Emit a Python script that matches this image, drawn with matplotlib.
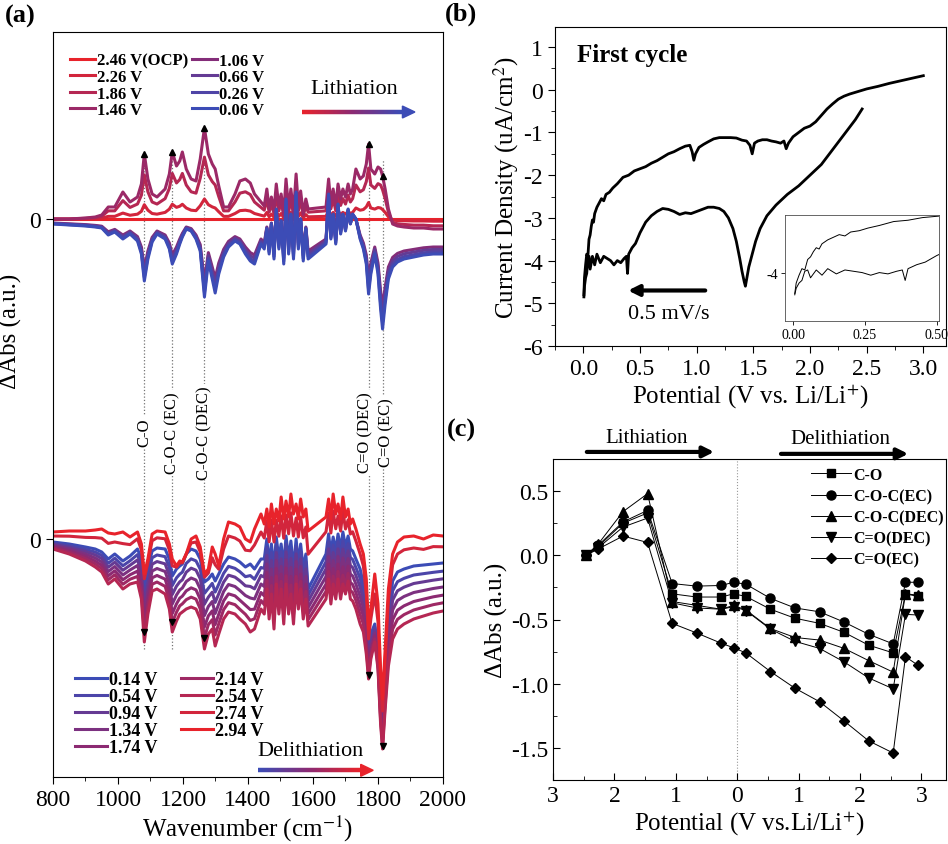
import numpy as np
import matplotlib
matplotlib.use('Agg')
import matplotlib.pyplot as plt
from matplotlib.collections import LineCollection
from matplotlib.colors import LinearSegmentedColormap
from matplotlib.patches import Polygon
from matplotlib.ticker import MultipleLocator

plt.rcParams['font.family'] = ['Liberation Serif', 'DejaVu Serif']
plt.rcParams['mathtext.fontset'] = 'stix'
plt.rcParams['axes.unicode_minus'] = False

# ---------------- panel (a): in situ IR difference spectra ----------------
wn = np.array([800, 850, 900, 930, 950, 970, 990, 1015, 1037, 1060,
               1072, 1081, 1092, 1105, 1120, 1145, 1158, 1167, 1180, 1190,
               1198, 1210, 1225, 1240, 1253, 1266, 1278, 1290, 1299, 1310,
               1325, 1340, 1360, 1375, 1392, 1407, 1420, 1440,
               1450, 1458, 1465, 1472, 1480, 1487, 1495, 1502, 1510, 1517,
               1525, 1532, 1540, 1548, 1555, 1562, 1570, 1578,
               1585, 1640,
               1648, 1655, 1662, 1670, 1677, 1685, 1692, 1700, 1708, 1715, 1722,
               1732, 1745, 1755, 1764, 1771, 1778, 1790, 1800, 1808, 1814,
               1822, 1832, 1845, 1860, 1880, 1910, 1940, 1970, 2000])

# lithiation: positive-going shape (1.46 V) and negative-going shape (0.06 V)
pos_prof = np.array([0, 0, 0.01, 0.02, 0.04, 0.12, 0.12, 0.27, 0.17, 0.22,
                     0.35, 0.65, 0.40, 0.25, 0.22, 0.30, 0.45, 0.67, 0.53, 0.58,
                     0.67, 0.50, 0.40, 0.38, 0.60, 0.91, 0.65, 0.55, 0.50, 0.33,
                     0.12, 0.12, 0.25, 0.38, 0.40, 0.36, 0.25, 0.17,
                     0.13, 0.30, 0.10, 0.22, 0.08, 0.35, 0.12, 0.25, 0.05, 0.40,
                     0.10, 0.30, 0.06, 0.45, 0.12, 0.28, 0.05, 0.20,
                     0.10, 0.12,
                     0.40, 0.15, 0.30, 0.12, 0.35, 0.20, 0.30, 0.22, 0.35, 0.25, 0.30,
                     0.50, 0.40, 0.43, 0.55, 0.75, 0.50, 0.45, 0.52, 0.50, 0.43,
                     0.30, 0.10, -0.05, -0.07, -0.08, -0.09, -0.09, -0.10, -0.10])
neg_prof = np.array([-0.05, -0.06, -0.07, -0.08, -0.09, -0.16, -0.13, -0.20, -0.15, -0.22,
                     -0.35, -0.62, -0.40, -0.23, -0.15, -0.20, -0.30, -0.45, -0.35, -0.25,
                     -0.18, -0.10, -0.12, -0.20, -0.32, -0.78, -0.42, -0.60, -0.74, -0.55,
                     -0.38, -0.28, -0.22, -0.25, -0.35, -0.42, -0.45, -0.25,
                     -0.30, -0.10, -0.35, -0.05, -0.40, 0.10, -0.30, -0.02, -0.45, 0.20,
                     -0.35, 0.05, -0.40, 0.27, -0.30, 0.00, -0.42, -0.10,
                     -0.40, -0.25,
                     0.25, -0.20, 0.05, -0.25, 0.15, -0.15, 0.05, -0.12, 0.10, -0.05, 0.05,
                     0.00, -0.20, -0.30, -0.45, -0.75, -0.55, -0.35, -0.55, -0.90, -1.10,
                     -0.85, -0.60, -0.48, -0.43, -0.40, -0.38, -0.36, -0.35, -0.35])

# delithiation: 2.94 V (top red), 0.14 V (blue) and 2.54 V (lowest) shapes
red_prof = np.array([0.07, 0.08, 0.08, 0.09, 0.10, 0.06, 0.05, 0.07, 0.02, 0.07,
                     -0.05, -0.35, -0.20, 0.05, 0.08, 0.07, -0.05, -0.20, -0.27, -0.22,
                     -0.23, -0.15, 0.00, 0.03, -0.08, -0.35, -0.30, -0.08, -0.15, -0.27,
                     0.00, 0.17, 0.15, 0.12, 0.00, -0.03, 0.10, 0.25,
                     0.15, 0.30, 0.12, 0.35, 0.15, 0.30, 0.18, 0.42, 0.20, 0.38,
                     0.22, 0.45, 0.25, 0.35, 0.20, 0.40, 0.22, 0.30,
                     0.08, 0.22,
                     0.40, 0.20, 0.45, 0.25, 0.35, 0.20, 0.42, 0.22, 0.30, 0.15, 0.20,
                     0.10, -0.05, -0.15, -0.40, -0.90, -0.70, -0.35, -0.65, -1.30, -1.60,
                     -1.10, -0.50, -0.15, -0.03, 0.02, 0.03, 0.00, 0.04, 0.03])
blue_prof = np.array([-0.03, -0.05, -0.08, -0.10, -0.13, -0.20, -0.15, -0.22, -0.17, -0.10,
                      -0.20, -0.47, -0.30, -0.12, -0.09, -0.10, -0.20, -0.37, -0.30, -0.27,
                      -0.25, -0.15, -0.10, -0.12, -0.20, -0.43, -0.40, -0.35, -0.42, -0.35,
                      -0.25, -0.18, -0.20, -0.23, -0.28, -0.25, -0.30, -0.20,
                      -0.20, 0.00, -0.25, -0.05, -0.30, 0.02, -0.20, -0.05, -0.28, 0.03,
                      -0.20, -0.02, -0.30, 0.00, -0.25, -0.05, -0.30, -0.15,
                      -0.50, -0.15,
                      0.05, -0.15, 0.02, -0.12, 0.05, -0.10, 0.07, -0.08, 0.03, -0.10, -0.12,
                      -0.20, -0.30, -0.45, -0.80, -1.15, -0.95, -0.85, -1.10, -1.60, -1.90,
                      -1.40, -0.80, -0.42, -0.33, -0.30, -0.27, -0.26, -0.25, -0.24])
low_prof = np.array([-0.10, -0.15, -0.22, -0.28, -0.33, -0.45, -0.40, -0.50, -0.45, -0.43,
                     -0.60, -1.03, -0.75, -0.52, -0.50, -0.55, -0.70, -0.93, -0.82, -0.75,
                     -0.73, -0.70, -0.68, -0.70, -0.80, -1.10, -0.95, -0.90, -1.07, -0.95,
                     -0.80, -0.73, -0.75, -0.80, -0.85, -0.93, -0.90, -0.70,
                     -0.75, -0.50, -0.80, -0.55, -0.90, -0.45, -0.75, -0.50, -0.85, -0.45,
                     -0.75, -0.55, -0.85, -0.45, -0.70, -0.50, -0.80, -0.60,
                     -0.87, -0.60,
                     -0.40, -0.65, -0.45, -0.60, -0.40, -0.60, -0.45, -0.55, -0.42, -0.60, -0.62,
                     -0.70, -0.85, -0.93, -1.15, -1.40, -1.20, -1.03, -1.30, -1.85, -2.10,
                     -1.70, -1.27, -1.00, -0.90, -0.85, -0.80, -0.77, -0.74, -0.72])

lith_labels = ['2.46 V(OCP)', '2.26 V', '1.86 V', '1.46 V',
               '1.06 V', '0.66 V', '0.26 V', '0.06 V']
lith_pos_w = [0, 0.22, 0.68, 1.0, 0, 0, 0, 0]
lith_neg_w = [0, 0, 0, 0, 0.80, 0.87, 0.94, 1.0]
lith_cfrac = [0.0, 0.12, 0.28, 0.42, 0.55, 0.75, 0.88, 1.0]

delith_labels = ['0.14 V', '0.54 V', '0.94 V', '1.34 V', '1.74 V',
                 '2.14 V', '2.54 V', '2.74 V', '2.94 V']
delith_red_w = [0, 0, 0, 0, 0, 0, 0, 0.6, 1.0]
delith_blue_w = [1.0, 0.83, 0.67, 0.5, 0.33, 0.17, 0, 0.4, 0]
delith_low_w = [0, 0.17, 0.33, 0.5, 0.67, 0.83, 1.0, 0, 0]
delith_cfrac = [1.0, 0.9, 0.74, 0.6, 0.5, 0.4, 0.28, 0.12, 0.0]

bands = [1081, 1167, 1266, 1771, 1814]
band_labels = ['C-O', 'C-O-C (EC)', 'C-O-C (DEC)', 'C=O (DEC)', 'C=O (EC)']
band_label_x = [1081, 1167, 1266, 1762, 1826]

# ---------------- panel (b): first CV cycle ----------------
cv_up_v = [0.005, 0.01, 0.02, 0.03, 0.04, 0.05, 0.06, 0.07, 0.08, 0.09, 0.10, 0.12, 0.14,
           0.16, 0.18, 0.20, 0.23, 0.26, 0.30, 0.35, 0.40, 0.45, 0.50, 0.55, 0.60, 0.65,
           0.70, 0.75, 0.80, 0.85, 0.90, 0.94, 0.96, 0.975, 0.99, 1.02, 1.06, 1.10, 1.15,
           1.20, 1.25, 1.30, 1.35, 1.40, 1.44, 1.47, 1.49, 1.51, 1.54, 1.58, 1.62, 1.66,
           1.70, 1.74, 1.77, 1.79, 1.81, 1.85, 1.90, 1.95, 2.00, 2.05, 2.10, 2.15, 2.20,
           2.25, 2.30, 2.35, 2.40, 2.50, 2.60, 2.70, 2.80, 2.90, 3.00]
cv_up_i = [-4.8, -4.4, -4.1, -3.85, -3.9, -3.5, -3.4, -3.2, -3.05, -3.1, -2.9, -2.75, -2.65,
           -2.55, -2.6, -2.45, -2.4, -2.3, -2.2, -2.05, -2.0, -1.9, -1.85, -1.8, -1.72, -1.66,
           -1.58, -1.5, -1.45, -1.38, -1.32, -1.3, -1.45, -1.65, -1.5, -1.35, -1.28, -1.22, -1.15,
           -1.12, -1.12, -1.12, -1.13, -1.18, -1.2, -1.3, -1.5, -1.25, -1.2, -1.17, -1.17, -1.2,
           -1.22, -1.25, -1.2, -1.38, -1.25, -1.1, -1.0, -0.9, -0.85, -0.75, -0.6, -0.45, -0.33,
           -0.22, -0.15, -0.1, -0.06, 0.02, 0.08, 0.15, 0.21, 0.27, 0.33]
cv_dn_v = [2.46, 2.40, 2.30, 2.20, 2.10, 2.00, 1.90, 1.80, 1.70, 1.62, 1.56, 1.52, 1.49,
           1.46, 1.44, 1.43, 1.42, 1.40, 1.38, 1.35, 1.32, 1.28, 1.24, 1.20, 1.15, 1.10,
           1.05, 1.00, 0.95, 0.90, 0.85, 0.80, 0.75, 0.70, 0.65, 0.60, 0.55, 0.50, 0.46,
           0.43, 0.40, 0.39, 0.38, 0.36, 0.33, 0.30, 0.27, 0.24, 0.21, 0.18, 0.15, 0.12,
           0.10, 0.08, 0.06, 0.05, 0.04, 0.03, 0.02, 0.01, 0.005]
cv_dn_i = [-0.45, -0.7, -1.05, -1.4, -1.75, -2.0, -2.25, -2.45, -2.7, -2.95, -3.25, -3.55, -3.85,
           -4.15, -4.45, -4.6, -4.5, -4.25, -3.95, -3.55, -3.25, -3.0, -2.85, -2.78, -2.75, -2.75,
           -2.8, -2.85, -2.9, -2.88, -2.92, -2.85, -2.8, -2.78, -2.85, -2.95, -3.1, -3.35, -3.6,
           -3.7, -3.85, -4.3, -3.9, -3.95, -4.05, -4.0, -4.1, -4.0, -3.95, -3.9, -4.05, -3.85,
           -4.1, -3.9, -4.2, -3.9, -3.95, -4.3, -4.4, -4.6, -4.85]

# ---------------- panel (c): band intensity vs potential ----------------
lith_v = np.array([2.46, 2.26, 1.86, 1.46, 1.06, 0.66, 0.26, 0.06])
delith_v = np.array([0.14, 0.54, 0.94, 1.34, 1.74, 2.14, 2.54, 2.74, 2.94])
c_o = [0, 0.07, 0.25, 0.33, -0.30, -0.325, -0.325, -0.30,
       -0.32, -0.42, -0.49, -0.53, -0.60, -0.70, -0.76, -0.30, -0.32]
c_o_c_ec = [0, 0.08, 0.26, 0.35, -0.22, -0.24, -0.235, -0.21,
            -0.225, -0.335, -0.41, -0.44, -0.52, -0.615, -0.69, -0.21, -0.21]
c_o_c_dec = [0, 0.09, 0.34, 0.48, -0.36, -0.39, -0.42, -0.39,
             -0.425, -0.57, -0.64, -0.66, -0.725, -0.82, -0.91, -0.30, -0.31]
c_eq_o_dec = [0, 0.06, 0.22, 0.29, -0.37, -0.41, -0.42, -0.40,
              -0.43, -0.575, -0.67, -0.725, -0.83, -0.955, -1.04, -0.46, -0.465]
c_eq_o_ec = [0, 0.05, 0.15, 0.10, -0.53, -0.605, -0.685, -0.72,
             -0.76, -0.905, -1.035, -1.14, -1.29, -1.445, -1.54, -0.79, -0.855]

# ==================================================================
W, H = 948, 845
fig = plt.figure(figsize=(W / 100, H / 100), dpi=100)
cmap = LinearSegmentedColormap.from_list('rb', ['#e8232b', '#8c2a72', '#3c4cb6'])


def px_axes(left, top, right, bottom):
    return fig.add_axes([left / W, 1 - bottom / H, (right - left) / W, (bottom - top) / H])


def grad_arrow(ax, x0, x1, y, c_start, c_end):
    head = 0.032
    xs = np.linspace(x0, x1 - head, 50)
    segs = [[(xs[i], y), (xs[i + 1], y)] for i in range(len(xs) - 1)]
    cols = [cmap(c_start + (c_end - c_start) * i / (len(segs) - 1)) for i in range(len(segs))]
    ax.add_collection(LineCollection(segs, colors=cols, linewidths=3.2,
                                     transform=ax.transAxes, clip_on=False))
    ax.add_patch(Polygon([(x1 - head, y - 0.008), (x1, y), (x1 - head, y + 0.008)],
                         closed=True, transform=ax.transAxes, color=cmap(c_end),
                         clip_on=False))


# ---- (a)
ax = px_axes(53, 33, 443, 778)
top0, bot0 = 0.0, -3.2
lines_l = []
curves_l = []
for lab, wp, wneg, c in zip(lith_labels, lith_pos_w, lith_neg_w, lith_cfrac):
    y = top0 + wp * pos_prof + wneg * neg_prof
    ln, = ax.plot(wn, y, color=cmap(c), lw=2.2, label=lab)
    lines_l.append(ln)
    curves_l.append(y)
lines_d = []
curves_d = []
for lab, wr, wb, wlo, c in zip(delith_labels, delith_red_w, delith_blue_w, delith_low_w, delith_cfrac):
    y = bot0 + wr * red_prof + wb * blue_prof + wlo * low_prof
    ln, = ax.plot(wn, y, color=cmap(c), lw=2.2, label=lab)
    lines_d.append(ln)
    curves_d.append(y)

# band markers on the 1.46 V and 2.14 V spectra
idx = np.searchsorted(wn, bands)
ax.plot(wn[idx], curves_l[3][idx], '^', color='k', ms=4, zorder=4)
ax.plot(wn[idx], curves_d[5][idx], 'v', color='k', ms=4, zorder=4)

ax.vlines(bands, -4.3, 0.6, colors='0.45', linestyles=':', lw=0.9, zorder=0.5)
for bx, lab in zip(band_label_x, band_labels):
    ax.text(bx, -2.13, lab, rotation=90, ha='center', va='center', fontsize=12,
            bbox=dict(facecolor='white', edgecolor='none', pad=1), zorder=3)

leg1 = ax.legend(handles=lines_l, ncol=2, loc='upper left', bbox_to_anchor=(0.044, 0.972),
                 frameon=False, prop={'weight': 'bold', 'size': 12}, borderpad=0,
                 borderaxespad=0, handlelength=1.5, handletextpad=0.1,
                 labelspacing=0.02, columnspacing=0.25)
ax.add_artist(leg1)
ax.legend(handles=lines_d, ncol=2, loc='upper left', bbox_to_anchor=(0.056, 0.142),
          frameon=False, prop={'weight': 'bold', 'size': 13}, borderpad=0,
          borderaxespad=0, handlelength=1.8, handletextpad=0.08,
          labelspacing=0.0, columnspacing=1.3)

ax.text(0.659, 0.9235, 'Lithiation', transform=ax.transAxes, fontsize=16, va='center')
grad_arrow(ax, 0.638, 0.928, 0.8926, 0.0, 1.0)
ax.text(0.523, 0.035, 'Delithiation', transform=ax.transAxes, fontsize=16, va='center')
grad_arrow(ax, 0.526, 0.821, 0.009, 1.0, 0.0)

ax.set_xlim(800, 2000)
ax.set_ylim(-5.58, 1.87)
ax.set_xticks(range(800, 2001, 200))
ax.xaxis.set_minor_locator(MultipleLocator(100))
ax.set_yticks([top0, bot0])
ax.set_yticklabels(['0', '0'])
ax.tick_params(labelsize=17, direction='out', length=5)
ax.tick_params(which='minor', direction='out', length=3)
ax.set_xlabel('Wavenumber (cm$^{-1}$)', fontsize=18, labelpad=2)
ax.set_ylabel('ΔAbs (a.u.)', fontsize=18, labelpad=4)
ax.yaxis.set_label_coords(-0.08, 0.6)

# ---- (b)
axb = px_axes(555, 28, 946, 347)
axb.plot(cv_up_v, cv_up_i, color='k', lw=2)
axb.plot(cv_dn_v, cv_dn_i, color='k', lw=2)
axb.set_xlim(-0.25, 3.2)
axb.set_ylim(-6, 1.47)
axb.set_xticks(np.arange(0, 3.01, 0.5))
axb.set_xticklabels([f'{v:.1f}' for v in np.arange(0, 3.01, 0.5)])
axb.set_yticks(range(-6, 2))
axb.xaxis.set_minor_locator(MultipleLocator(0.25))
axb.yaxis.set_minor_locator(MultipleLocator(0.5))
axb.tick_params(labelsize=17, direction='out', length=5)
axb.tick_params(which='minor', direction='out', length=3)
axb.set_xlabel('Potential (V vs. Li/Li$^{+}$)', fontsize=18, labelpad=2)
axb.set_ylabel('Current Density (uA/cm$^{2}$)', fontsize=18, labelpad=2)
axb.text(0.056, 0.915, 'First cycle', transform=axb.transAxes, fontsize=18,
         fontweight='bold', va='center')
axb.annotate('', xy=(0.37, -4.7), xytext=(1.1, -4.7),
             arrowprops=dict(arrowstyle='-|>', lw=3, color='k', mutation_scale=16))
axb.text(0.75, -5.25, '0.5 mV/s', fontsize=16, ha='center', va='center')

ins = px_axes(785, 216, 939, 322)
ins.plot(cv_up_v, cv_up_i, color='k', lw=0.7)
ins.plot(cv_dn_v, cv_dn_i, color='k', lw=0.7)
ins.set_xlim(-0.029, 0.508)
ins.set_ylim(-5.85, -1.8)
ins.set_xticks([0, 0.25, 0.5])
ins.set_xticklabels(['0.00', '0.25', '0.50'])
ins.set_yticks([-4])
ins.tick_params(labelsize=10, direction='out', length=3, width=0.6, pad=2)
for s in ins.spines.values():
    s.set_linewidth(0.6)
    s.set_color('0.3')

# ---- (c)
axc = px_axes(553, 460, 946, 781)
xpos = np.concatenate([-lith_v, delith_v])
series = [(c_o, 's', 'C-O', 6), (c_o_c_ec, 'o', 'C-O-C(EC)', 6.5),
          (c_o_c_dec, '^', 'C-O-C(DEC)', 7), (c_eq_o_dec, 'v', 'C=O(DEC)', 7),
          (c_eq_o_ec, 'D', 'C=O(EC)', 5)]
for vals, mk, lab, ms in series:
    axc.plot(xpos, vals, color='k', lw=0.7, marker=mk, ms=ms, label=lab)
axc.axvline(0, color='0.6', ls=':', lw=0.8, zorder=0)
axc.set_xlim(-3, 3.4)
axc.set_ylim(-1.75, 0.75)
axc.set_xticks(range(-3, 4))
axc.set_xticklabels([str(abs(v)) for v in range(-3, 4)])
axc.set_yticks([0.5, 0.0, -0.5, -1.0, -1.5])
axc.set_yticklabels(['0.5', '0.0', '-0.5', '-1.0', '-1.5'])
axc.xaxis.set_minor_locator(MultipleLocator(0.5))
axc.yaxis.set_minor_locator(MultipleLocator(0.25))
axc.tick_params(labelsize=17, direction='in', length=5)
axc.tick_params(which='minor', direction='in', length=3)
axc.set_xlabel('Potential (V vs.Li/Li$^{+}$)', fontsize=18, labelpad=2)
axc.set_ylabel('ΔAbs (a.u.)', fontsize=18, labelpad=2)
axc.legend(loc='upper left', bbox_to_anchor=(0.657, 0.975), frameon=False,
           prop={'weight': 'bold', 'size': 11.5}, borderpad=0, borderaxespad=0,
           handlelength=2.5, handletextpad=0.15, labelspacing=0.32)

axc.text(0.239, 1.068, 'Lithiation', transform=axc.transAxes, fontsize=15, ha='center', va='center')
axc.annotate('', xy=(0.417, 1.022), xytext=(0.079, 1.022), xycoords='axes fraction',
             arrowprops=dict(arrowstyle='-|>', lw=3, color='k', mutation_scale=16))
axc.text(0.73, 1.065, 'Delithiation', transform=axc.transAxes, fontsize=15, ha='center', va='center')
axc.annotate('', xy=(0.911, 1.016), xytext=(0.573, 1.016), xycoords='axes fraction',
             arrowprops=dict(arrowstyle='-|>', lw=3, color='k', mutation_scale=16))

# panel letters
fig.text(5 / W, 1 - 16 / H, '(a)', fontsize=19, fontweight='bold', va='center')
fig.text(445 / W, 1 - 14 / H, '(b)', fontsize=19, fontweight='bold', va='center')
fig.text(447 / W, 1 - 430 / H, '(c)', fontsize=19, fontweight='bold', va='center')

fig.savefig('out.png', dpi=100)
